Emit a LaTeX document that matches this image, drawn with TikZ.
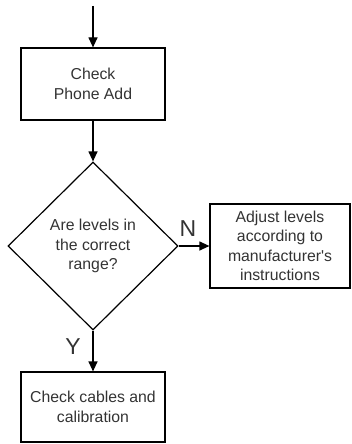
\documentclass[tikz,border=0pt]{standalone}
\usepackage{fontspec}
\setmainfont{Liberation Sans}
\usetikzlibrary{shapes.geometric,arrows.meta}
\definecolor{txt}{gray}{0.2}
\tikzset{
  box/.style={draw=black, line width=1.2pt, rectangle, inner sep=0pt, align=center,
    text=txt, font=\fontsize{15.8}{19.5}\selectfont},
  decision/.style={draw=black, line width=1.2pt, diamond, aspect=1, inner sep=0pt, align=center,
    text=txt, font=\fontsize{15.8}{19.5}\selectfont, minimum width=170pt, minimum height=168pt},
  flow/.style={line width=1.2pt, -{Triangle[length=10pt,width=9pt]}},
  lbl/.style={text=txt, font=\fontsize{23}{24}\selectfont, inner sep=0pt}
}
\begin{document}
\begin{tikzpicture}[x=1pt,y=-1pt]
\useasboundingbox (0,0) rectangle (351,444);
\coordinate (start) at (93,6);
\node[box, minimum width=144pt, minimum height=72pt] (phone) at (93,84) {Check\\Phone Add};
\node[decision] (dec) at (93,246) {Are levels in\\the correct\\range?};
\node[box, minimum width=140pt, minimum height=84pt] (adjust) at (280,246) {Adjust levels\\according to\\manufacturer\textquotesingle s\\instructions};
\node[box, minimum width=144pt, minimum height=70pt] (cables) at (93,407) {Check cables and\\calibration};
\node[lbl] (N) at (188,229) {N};
\node[lbl] (Y) at (73,347) {Y};
\draw[flow] (start) -- (phone.north);
\draw[flow] (phone.south) -- (dec.north);
\draw[flow] (dec.east) -- (adjust.west);
\draw[flow] (dec.south) -- (cables.north);
\end{tikzpicture}
\end{document}
